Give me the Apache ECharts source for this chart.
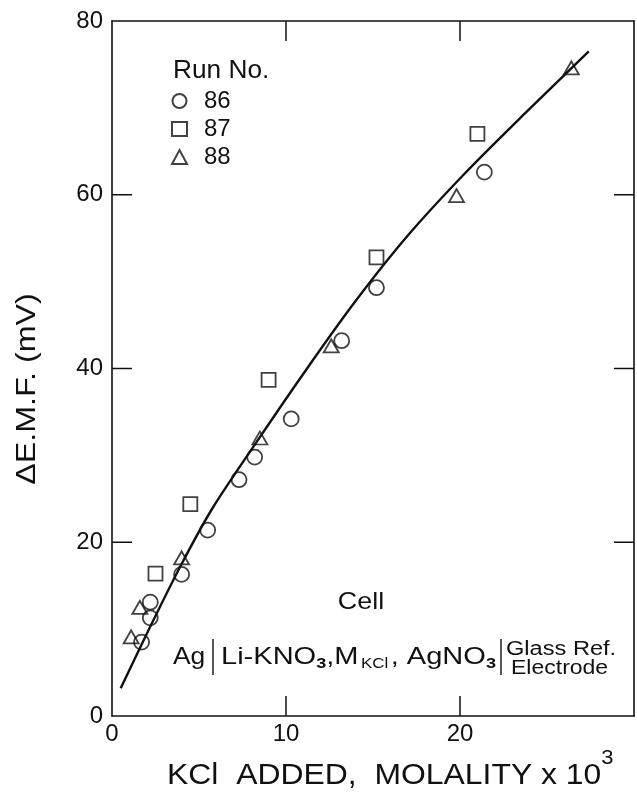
<!DOCTYPE html>
<html>
<head>
<meta charset="utf-8">
<script src="https://cdn.jsdelivr.net/npm/echarts@6/dist/echarts.min.js"></script>
<style>
  html, body { margin: 0; padding: 0; background: #fff; }
  #chart { width: 637px; height: 793px; }
</style>
</head>
<body>
<div id="chart"></div>
<script>
// fitted curve
const curveX = [0.5, 2.2, 4.0, 5.8, 8.5, 11.0, 13.9, 17.0, 20.3, 23.7, 27.4]
const curveY = [3.2, 10.3, 17.5, 24.0, 32.1, 39.4, 47.5, 55.3, 62.5, 69.3, 76.5]

// Run 86 (circles)
const run86X = [1.7, 2.2, 2.2, 4.0, 5.5, 7.3, 8.2, 10.3, 13.2, 15.2, 21.4]
const run86Y = [8.5, 11.3, 13.1, 16.3, 21.4, 27.2, 29.8, 34.2, 43.2, 49.3, 62.6]
// Run 87 (squares)
const run87X = [2.5, 4.5, 9.0, 15.2, 21.0]
const run87Y = [16.4, 24.4, 38.7, 52.8, 67.0]
// Run 88 (triangles)
const run88X = [1.1, 1.6, 4.0, 8.5, 12.6, 19.8, 26.4]
const run88Y = [9.1, 12.5, 18.2, 32.0, 42.6, 59.9, 74.6]

const xTicks = [0, 10, 20]
const yTicks = [0, 20, 40, 60, 80]
// ticks drawn inside the frame (not at the corners)
const xInnerTicks = [10, 20]
const yInnerTicks = [20, 40, 60]

const FONT = '"Liberation Sans", Arial, sans-serif'
const INK = '#111'
const TICK_LEN = 20

function pairs (xs, ys) {
  return xs.map((x, i) => [x, ys[i]])
}

const chart = echarts.init(document.getElementById('chart'))

const axisBase = {
  type: 'value',
  axisLine: { show: true, onZero: false, lineStyle: { color: INK, width: 1.6 } },
  axisTick: { show: false },
  splitLine: { show: false }
}

const markerStyle = {
  color: 'rgba(0,0,0,0)',
  borderColor: INK,
  borderWidth: 1.8
}

chart.setOption({
  animation: false,
  grid: { left: 112, top: 21, right: 2, bottom: 77 },
  xAxis: [
    Object.assign({}, axisBase, {
      min: 0, max: 30, interval: 10, position: 'bottom',
      axisLabel: {
        margin: 6, fontSize: 24, fontFamily: FONT, color: INK,
        formatter: v => xTicks.indexOf(v) >= 0 ? String(v) : ''
      }
    }),
    Object.assign({}, axisBase, {
      min: 0, max: 30, interval: 10, position: 'top',
      axisLabel: { show: false }
    })
  ],
  yAxis: [
    Object.assign({}, axisBase, {
      min: 0, max: 80, interval: 20, position: 'left',
      axisLabel: {
        margin: 9, fontSize: 24, fontFamily: FONT, color: INK,
        formatter: v => yTicks.indexOf(v) >= 0 ? String(v) : ''
      }
    }),
    Object.assign({}, axisBase, {
      min: 0, max: 80, interval: 20, position: 'right',
      axisLabel: { show: false }
    })
  ],
  legend: {
    data: ['86', '87', '88'],
    orient: 'vertical',
    left: 171,
    top: 89,
    padding: 0,
    itemWidth: 15,
    itemHeight: 14,
    itemGap: 4,
    selectedMode: false,
    textStyle: { fontSize: 24, fontFamily: FONT, color: INK, padding: [0, 0, 0, 12] }
  },
  series: [
    {
      name: 'curve',
      type: 'line',
      data: pairs(curveX, curveY),
      smooth: 0.3,
      showSymbol: false,
      symbol: 'none',
      lineStyle: { color: INK, width: 2.4 },
      z: 2
    },
    {
      name: '86',
      type: 'scatter',
      symbol: 'circle',
      symbolSize: 15,
      itemStyle: markerStyle,
      data: pairs(run86X, run86Y),
      z: 3
    },
    {
      name: '87',
      type: 'scatter',
      symbol: 'rect',
      symbolSize: 14,
      itemStyle: markerStyle,
      data: pairs(run87X, run87Y),
      z: 3
    },
    {
      name: '88',
      type: 'scatter',
      symbol: 'triangle',
      symbolSize: [15, 13],
      itemStyle: markerStyle,
      data: pairs(run88X, run88Y),
      z: 3
    }
  ]
})

// inward ticks on all four sides, placed through the axes' own scales
const x0 = chart.convertToPixel({ xAxisIndex: 0 }, 0)
const x1 = chart.convertToPixel({ xAxisIndex: 0 }, 30)
const y0 = chart.convertToPixel({ yAxisIndex: 0 }, 0)
const y1 = chart.convertToPixel({ yAxisIndex: 0 }, 80)
const tickStyle = { stroke: INK, lineWidth: 1.5 }
const ticks = []
xInnerTicks.forEach(v => {
  const px = chart.convertToPixel({ xAxisIndex: 0 }, v)
  ticks.push({ type: 'line', shape: { x1: px, y1: y0, x2: px, y2: y0 - TICK_LEN }, style: tickStyle })
  ticks.push({ type: 'line', shape: { x1: px, y1: y1, x2: px, y2: y1 + TICK_LEN }, style: tickStyle })
})
yInnerTicks.forEach(v => {
  const py = chart.convertToPixel({ yAxisIndex: 0 }, v)
  ticks.push({ type: 'line', shape: { x1: x0, y1: py, x2: x0 + TICK_LEN, y2: py }, style: tickStyle })
  ticks.push({ type: 'line', shape: { x1: x1, y1: py, x2: x1 - TICK_LEN, y2: py }, style: tickStyle })
})

const labels = [
  // y axis title
  {
    type: 'text', x: 27, y: 389, rotation: Math.PI / 2, scaleX: 1.15,
    style: { text: 'ΔE.M.F. (mV)', font: '28px ' + FONT, fill: INK, textAlign: 'center', textVerticalAlign: 'middle' }
  },
  // x axis title
  {
    type: 'text', x: 167, y: 769, scaleX: 1.1,
    style: {
      text: '{t|KCl  ADDED,  MOLALITY x 10}{sup|3}',
      textVerticalAlign: 'middle',
      rich: {
        t: { font: '29px ' + FONT, fill: INK, lineHeight: 34, verticalAlign: 'bottom' },
        sup: { font: '20px ' + FONT, fill: INK, lineHeight: 42, verticalAlign: 'top' }
      }
    }
  },
  // legend heading
  {
    type: 'text', x: 173, y: 71, scaleX: 1.05,
    style: { text: 'Run No.', font: '25px ' + FONT, fill: INK, textVerticalAlign: 'middle' }
  },
  // cell annotation
  {
    type: 'text', x: 361, y: 602, scaleX: 1.12,
    style: { text: 'Cell', font: '24px ' + FONT, fill: INK, textAlign: 'center', textVerticalAlign: 'middle' }
  },
  {
    type: 'text', x: 173, y: 657, scaleX: 1.1,
    style: { text: 'Ag', font: '24px ' + FONT, fill: INK, textVerticalAlign: 'middle' }
  },
  {
    type: 'line', shape: { x1: 213, y1: 639, x2: 213, y2: 675 },
    style: { stroke: INK, lineWidth: 1.4 }
  },
  {
    type: 'text', x: 221, y: 657, scaleX: 1.21,
    style: {
      text: '{m|Li-KNO}{b|3}{m|,M}{s|KCl}{m|, AgNO}{b|3}',
      textVerticalAlign: 'middle',
      rich: {
        m: { font: '24px ' + FONT, fill: INK, lineHeight: 28, verticalAlign: 'middle' },
        b: { font: 'bold 15px ' + FONT, fill: INK, lineHeight: 16, verticalAlign: 'bottom' },
        s: { font: '14px ' + FONT, fill: INK, lineHeight: 14, verticalAlign: 'bottom', padding: [0, 2, 0, 2] }
      }
    }
  },
  {
    type: 'line', shape: { x1: 501, y1: 639, x2: 501, y2: 675 },
    style: { stroke: INK, lineWidth: 1.4 }
  },
  {
    type: 'text', x: 506, y: 649, scaleX: 1.18,
    style: { text: 'Glass Ref.', font: '20px ' + FONT, fill: INK, textVerticalAlign: 'middle' }
  },
  {
    type: 'text', x: 511, y: 668, scaleX: 1.15,
    style: { text: 'Electrode', font: '20px ' + FONT, fill: INK, textVerticalAlign: 'middle' }
  }
]

chart.setOption({ graphic: ticks.concat(labels) })
</script>
</body>
</html>
